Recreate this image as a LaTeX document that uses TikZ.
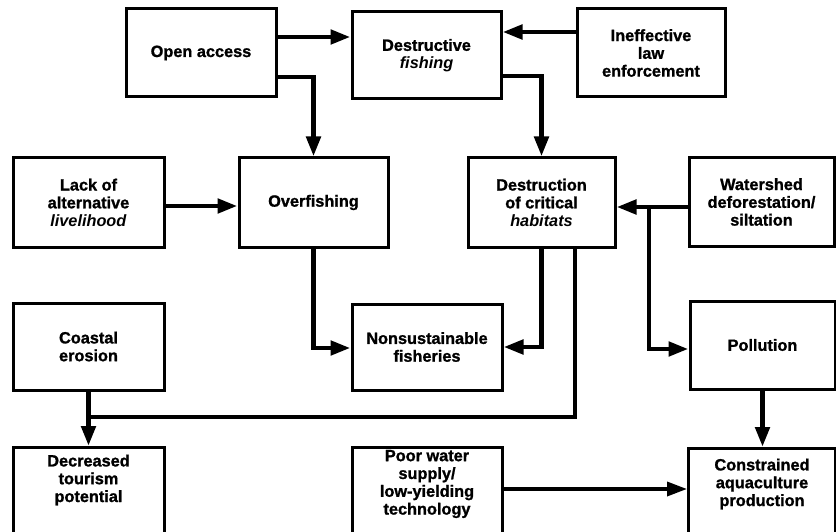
\documentclass[tikz,border=0pt]{standalone}
\usepackage{fontspec}
\setmainfont{Liberation Sans}[BoldFeatures={FakeBold=1.2}]
\usetikzlibrary{arrows.meta}
\tikzset{
  txt/.style={font=\bfseries\fontsize{16.3}{17.8}\selectfont, align=center},
  box/.style={txt, draw, line width=3pt, rectangle, inner sep=0pt},
  ln/.style={line width=4.8pt},
  arr/.style={ln, -{Triangle[length=20pt,width=14pt]}},
  arrthin/.style={line width=3.5pt, -{Triangle[length=20pt,width=14pt]}}
}
\begin{document}
\begin{tikzpicture}[x=1pt,y=-1pt]
\path[use as bounding box] (0,0) rectangle (836,532);
\clip (0,0) rectangle (836,532);
\fill[white] (0,0) rectangle (836,532);

% top row
\node[box, minimum width=150, minimum height=88] (oa) at (201,53) {\raisebox{-2pt}{Open access}};
\node[box, minimum width=149, minimum height=87] (de) at (426.5,55.5) {Destructive\\\textit{fishing}};
\node[box, minimum width=148, minimum height=88] (ie) at (651,53) {Ineffective\\law\\enforcement};

% second row
\node[box, minimum width=151, minimum height=89] (la) at (88.5,202.5) {Lack of\\alternative\\\textit{livelihood}};
\node[box, minimum width=149, minimum height=89] (of) at (313.5,202.5) {Overfishing};
\node[box, minimum width=147, minimum height=89] (dh) at (541.5,202.5) {Destruction\\of critical\\\textit{habitats}};
\node[box, minimum width=145, minimum height=89] (ws) at (761.5,202) {Watershed\\deforestation/\\siltation};

% third row
\node[box, minimum width=151, minimum height=87] (ce) at (88.5,346.5) {Coastal\\erosion};
\node[box, minimum width=150, minimum height=86] (ns) at (427,347) {Nonsustainable\\fisheries};
\node[box, minimum width=145, minimum height=88] (po) at (762.5,345) {Pollution};

% bottom row (cut off by the page edge)
\node[box, anchor=north, minimum width=151, minimum height=110,
  label={[txt, anchor=center, yshift=-34pt]north:{Decreased\\tourism\\potential}}] (dt) at (88.5,446) {};
\node[box, anchor=north, minimum width=150, minimum height=110,
  label={[txt, anchor=center, yshift=-38pt]north:{Poor water\\supply/\\low-yielding\\technology}}] (pw) at (427,446) {};
\node[box, anchor=north, minimum width=147, minimum height=110,
  label={[txt, anchor=center, yshift=-37pt]north:{Constrained\\aquaculture\\production}}] (ca) at (762,447) {};

% connectors
\draw[arr] (oa.east |- 0,37) -- (de.west |- 0,37);
\draw[arr] (ie.west |- 0,32) -- (de.east |- 0,32);
\draw[arr] (oa.east |- 0,77) -| (of.north);
\draw[arr] (de.east |- 0,76) -| (dh.north);
\draw[arr] (la.east |- 0,206) -- (of.west |- 0,206);
\draw[arr] (ws.west |- 0,207) -- (dh.east |- 0,207);
\coordinate (br) at (649,207);
\draw[arr] (br) |- (po.west |- 0,349);
\draw[arr] (of.south) |- (ns.west |- 0,348);
\draw[arr] (dh.south) |- (ns.east |- 0,347);
\coordinate (jn) at (86.1,417);
\draw[ln] (dh.south -| 575,0) |- (jn);
\draw[arr] (ce.south) -- (dt.north);
\draw[arr] (po.south) -- (po.south |- ca.north);
\draw[arrthin] (pw.east |- 0,489) -- (ca.west |- 0,489);
\end{tikzpicture}
\end{document}
